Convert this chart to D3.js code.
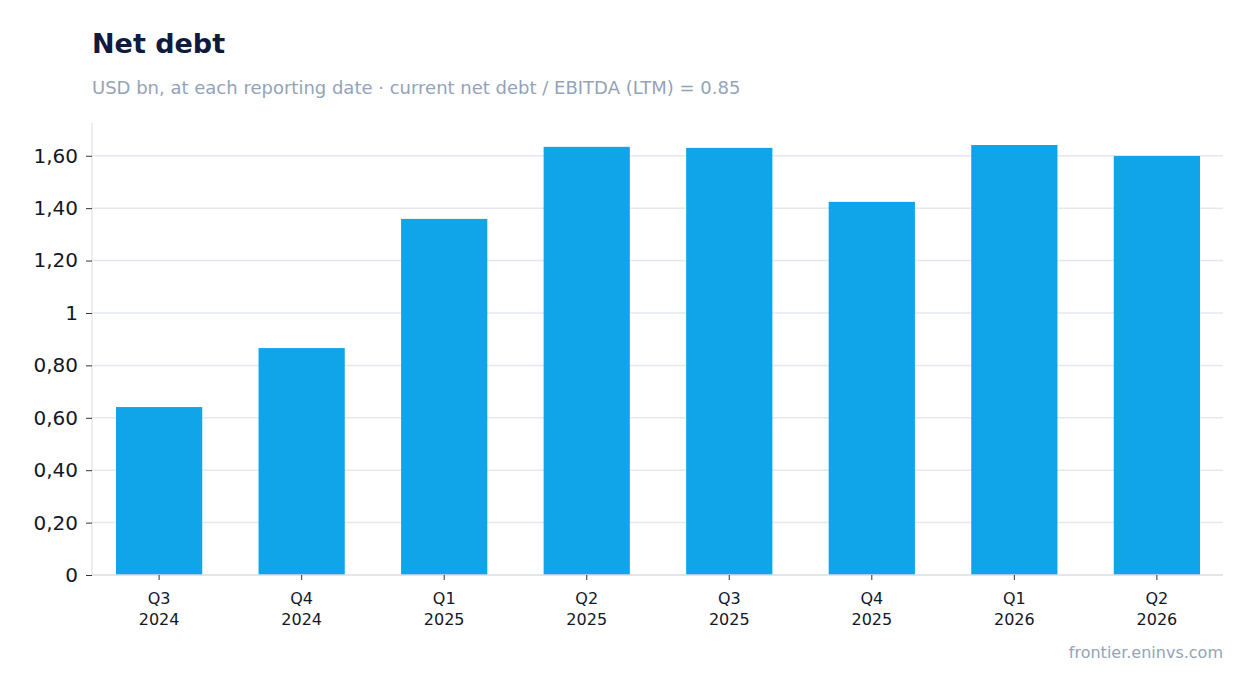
<!DOCTYPE html>
<html><head><meta charset="utf-8">
<script src="https://cdn.jsdelivr.net/npm/d3@7"></script>
<style>body{margin:0;background:#fff;font-family:"DejaVu Sans",sans-serif}</style>
</head><body><svg id="c" width="1254" height="693"></svg>
<script>
const categories = ["Q3\n2024","Q4\n2024","Q1\n2025","Q2\n2025","Q3\n2025","Q4\n2025","Q1\n2026","Q2\n2026"];
const values = [0.641,0.866,1.359,1.634,1.630,1.424,1.641,1.599];
const yTicks = [0,0.2,0.4,0.6,0.8,1,1.2,1.4,1.6];

const svg = d3.select("#c");
const L=92,R=1223,T=123,B=575;
const x = d3.scaleBand().domain(categories).range([116,1200]).paddingInner(0.395).paddingOuter(0);
const y = d3.scaleLinear().domain([0,1.725]).range([B,T]);
const fmt = v => v===0?"0":v===1?"1":d3.format(".2f")(v).replace(".",",");

svg.append("text").attr("x",92).attr("y",53).attr("font-size",27).attr("font-weight","bold").attr("fill","#0f1a3d").text("Net debt");
svg.append("text").attr("x",92).attr("y",94).attr("font-size",18).attr("fill","#94a3b8").text("USD bn, at each reporting date · current net debt / EBITDA (LTM) = 0.85");

svg.append("g").selectAll("line").data(yTicks.slice(1)).join("line")
  .attr("x1",L).attr("x2",R).attr("y1",d=>y(d)).attr("y2",d=>y(d)).attr("stroke","#e5e8ee").attr("stroke-width",1.5);

svg.append("g").selectAll("rect").data(values).join("rect")
  .attr("x",(d,i)=>x(categories[i])).attr("width",x.bandwidth())
  .attr("y",d=>y(d)).attr("height",d=>B-y(d)).attr("fill","#10a5e8");

const ya = svg.append("g").attr("transform",`translate(${L},0)`)
  .call(d3.axisLeft(y).tickValues(yTicks).tickFormat(fmt).tickSize(6).tickPadding(8));
ya.select(".domain").attr("d",`M0,${T}V${B}`).attr("stroke","#d8dce3");
ya.selectAll(".tick line").attr("stroke","#333");
ya.selectAll("text").attr("font-size",20).attr("fill","#111827").attr("font-family","DejaVu Sans");

svg.append("line").attr("x1",L).attr("x2",R).attr("y1",B).attr("y2",B).attr("stroke","#d8dce3").attr("stroke-width",1.5);
const xa = svg.append("g").attr("transform",`translate(0,${B})`).call(d3.axisBottom(x).tickSize(5).tickFormat(""));
xa.select(".domain").remove();
xa.selectAll(".tick line").attr("stroke","#333");
xa.selectAll(".tick").each(function(d){
  const p=d.split("\n");
  const t=d3.select(this).append("text").attr("fill","#111827").attr("font-size",16).attr("text-anchor","middle").attr("font-family","DejaVu Sans");
  t.append("tspan").attr("x",0).attr("y",29).text(p[0]);
  t.append("tspan").attr("x",0).attr("y",50).text(p[1]);
});
svg.append("text").attr("x",1223).attr("y",658).attr("text-anchor","end").attr("font-size",16).attr("fill","#94a3b8").text("frontier.eninvs.com");
</script></body></html>
